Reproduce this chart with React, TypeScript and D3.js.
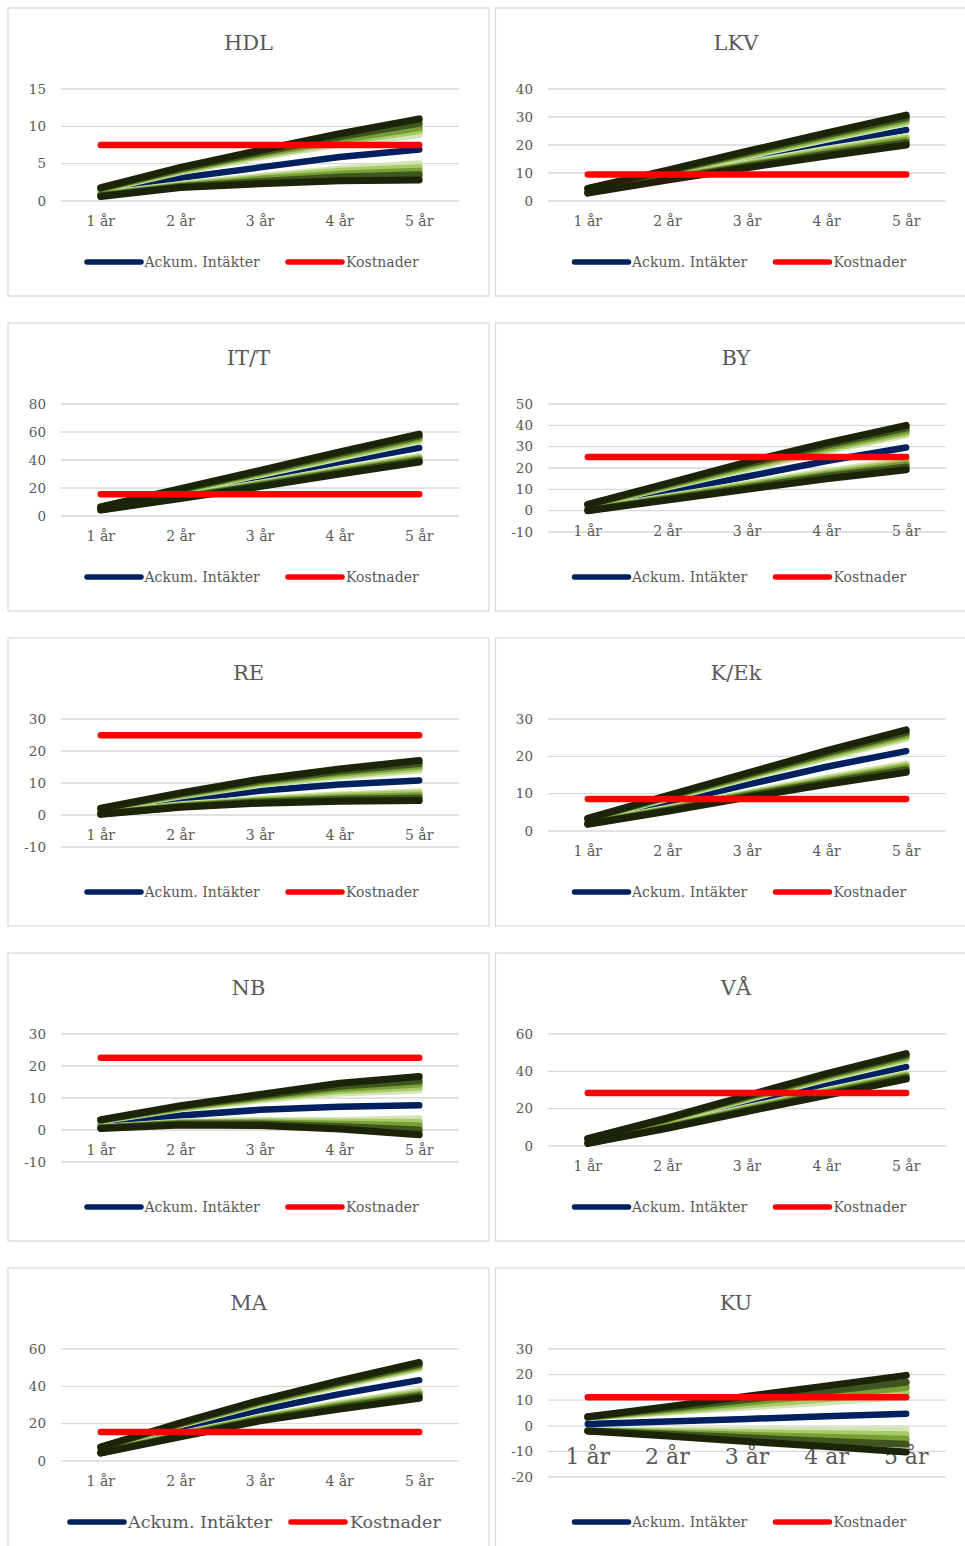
import React from "react";
import * as d3 from "d3";

// ---------- DATA ----------
const years = ["1 år", "2 år", "3 år", "4 år", "5 år"];
const panelTitles = ["HDL", "LKV", "IT/T", "BY", "RE", "K/Ek", "NB", "VÅ", "MA", "KU"];
const yTickValues = [
  [0, 5, 10, 15],
  [0, 10, 20, 30, 40],
  [0, 20, 40, 60, 80],
  [-10, 0, 10, 20, 30, 40, 50],
  [-10, 0, 10, 20, 30],
  [0, 10, 20, 30],
  [-10, 0, 10, 20, 30],
  [0, 20, 40, 60],
  [0, 20, 40, 60],
  [-20, -10, 0, 10, 20, 30],
];
const kostnader = [7.5, 9.5, 15.5, 25.2, 24.9, 8.6, 22.6, 28.4, 15.5, 11.2];
const ackumIntakter = [
  [1.2, 3.1, 4.5, 5.9, 6.9],
  [3.7, 9.2, 14.8, 20.2, 25.4],
  [5.5, 16.5, 27.5, 38.5, 48.7],
  [1.3, 8.8, 16.0, 23.3, 29.6],
  [1.0, 4.7, 7.6, 9.5, 10.8],
  [2.6, 7.5, 12.4, 17.2, 21.4],
  [1.7, 4.5, 6.3, 7.3, 7.7],
  [2.6, 12.0, 22.3, 32.7, 42.4],
  [6.0, 17.0, 27.3, 35.8, 43.3],
  [0.7, 1.7, 2.7, 3.7, 4.7],
];
// Upper scenario lines, outermost (darkest) first
const upperScenarios = [
  [[1.8, 4.5, 6.8, 9.0, 11.0], [1.7, 4.3, 6.5, 8.6, 10.4], [1.6, 4.2, 6.3, 8.2, 9.8], [1.6, 4.0, 6.1, 7.9, 9.4], [1.5, 3.9, 5.9, 7.6, 8.9]],
  [[4.5, 11.0, 17.8, 24.3, 30.7], [4.4, 10.7, 17.3, 23.6, 29.8], [4.3, 10.5, 16.8, 23.0, 29.1], [4.3, 10.2, 16.4, 22.5, 28.4], [4.2, 10.0, 16.0, 22.0, 27.8]],
  [[6.5, 19.5, 32.5, 45.8, 58.5], [6.4, 19.0, 31.6, 44.5, 57.0], [6.3, 18.6, 30.9, 43.4, 55.8], [6.3, 18.2, 30.2, 42.4, 54.6], [6.2, 17.8, 29.5, 41.5, 53.5]],
  [[2.9, 12.8, 22.8, 31.8, 40.0], [2.8, 12.3, 21.8, 30.7, 38.7], [2.6, 11.8, 21.0, 29.7, 37.5], [2.5, 11.4, 20.2, 28.8, 36.5], [2.4, 11.0, 19.5, 28.0, 35.5]],
  [[2.1, 6.9, 11.2, 14.4, 17.0], [2.0, 6.6, 10.7, 13.7, 16.1], [1.9, 6.4, 10.3, 13.1, 15.4], [1.9, 6.1, 9.9, 12.5, 14.7], [1.8, 5.9, 9.5, 12.0, 14.0]],
  [[3.4, 9.5, 15.5, 21.5, 27.1], [3.3, 9.3, 15.1, 20.9, 26.4], [3.2, 9.1, 14.8, 20.5, 25.8], [3.2, 8.9, 14.5, 20.0, 25.3], [3.1, 8.7, 14.2, 19.6, 24.8]],
  [[3.2, 7.6, 11.1, 14.6, 16.7], [3.1, 7.3, 10.6, 13.7, 15.4], [3.0, 7.1, 10.2, 13.0, 14.4], [2.9, 6.8, 9.8, 12.3, 13.4], [2.8, 6.6, 9.4, 11.6, 12.5]],
  [[4.0, 15.0, 27.0, 38.8, 49.5], [3.9, 14.6, 26.4, 38.0, 48.5], [3.8, 14.3, 25.9, 37.3, 47.6], [3.7, 14.1, 25.4, 36.6, 46.8], [3.6, 13.8, 25.0, 36.0, 46.0]],
  [[7.5, 20.5, 32.5, 43.0, 52.8], [7.4, 20.1, 31.9, 42.2, 51.8], [7.3, 19.8, 31.4, 41.5, 51.0], [7.2, 19.6, 30.9, 40.9, 50.2], [7.1, 19.3, 30.5, 40.3, 49.5]],
  [[3.5, 7.5, 11.6, 15.6, 19.7], [3.4, 6.8, 10.3, 13.6, 17.0], [3.4, 6.3, 9.2, 12.1, 15.0], [3.3, 5.7, 8.2, 10.6, 13.0], [3.3, 5.3, 7.3, 9.3, 11.3]],
];
// Lower scenario lines, outermost (darkest) first
const lowerScenarios = [
  [[0.6, 1.8, 2.3, 2.7, 2.8], [0.7, 1.9, 2.6, 3.2, 3.5], [0.8, 2.0, 2.9, 3.6, 4.0], [0.8, 2.1, 3.1, 4.0, 4.5], [0.9, 2.2, 3.3, 4.3, 5.0]],
  [[2.8, 7.5, 11.9, 16.1, 20.0], [3.0, 7.8, 12.4, 16.8, 20.9], [3.1, 8.1, 12.8, 17.4, 21.7], [3.2, 8.3, 13.1, 18.0, 22.3], [3.3, 8.5, 13.5, 18.5, 23.0]],
  [[4.3, 12.5, 21.0, 30.0, 38.5], [4.5, 13.0, 21.8, 31.1, 39.7], [4.6, 13.4, 22.4, 31.9, 40.7], [4.7, 13.8, 23.0, 32.7, 41.6], [4.8, 14.2, 23.5, 33.5, 42.5]],
  [[0.0, 5.0, 10.0, 15.0, 19.2], [0.1, 5.5, 10.8, 16.1, 20.5], [0.2, 5.8, 11.4, 16.9, 21.6], [0.3, 6.2, 12.0, 17.7, 22.6], [0.4, 6.5, 12.5, 18.5, 23.5]],
  [[0.2, 2.4, 3.7, 4.3, 4.5], [0.3, 2.6, 4.1, 4.9, 5.3], [0.4, 2.8, 4.4, 5.4, 6.0], [0.4, 3.0, 4.7, 5.9, 6.7], [0.5, 3.2, 5.0, 6.3, 7.3]],
  [[1.8, 5.3, 9.0, 12.5, 15.7], [1.9, 5.5, 9.4, 13.0, 16.4], [2.0, 5.7, 9.7, 13.4, 17.0], [2.0, 5.9, 9.9, 13.8, 17.5], [2.1, 6.1, 10.2, 14.2, 18.0]],
  [[0.5, 1.6, 1.4, 0.3, -1.5], [0.6, 1.9, 1.9, 1.1, 0.0], [0.7, 2.1, 2.3, 1.8, 1.3], [0.7, 2.3, 2.6, 2.4, 2.4], [0.8, 2.5, 3.0, 3.0, 3.5]],
  [[1.4, 9.5, 18.5, 27.2, 35.8], [1.5, 9.9, 19.1, 28.0, 36.7], [1.6, 10.2, 19.6, 28.6, 37.5], [1.7, 10.5, 20.1, 29.2, 38.1], [1.8, 10.8, 20.5, 29.8, 38.8]],
  [[4.2, 13.0, 21.5, 27.8, 33.6], [4.4, 13.5, 22.1, 28.8, 34.8], [4.5, 13.8, 22.6, 29.6, 35.7], [4.6, 14.2, 23.1, 30.3, 36.6], [4.7, 14.5, 23.5, 31.0, 37.5]],
  [[-2.0, -4.0, -6.1, -8.1, -10.2], [-2.0, -3.3, -4.7, -6.0, -7.2], [-2.0, -2.8, -3.7, -4.5, -5.3], [-1.9, -2.3, -2.7, -3.1, -3.5], [-1.9, -1.8, -1.7, -1.6, -1.5]],
];
const legendLabels = ["Ackum. Intäkter", "Kostnader"];

// ---------- STYLE ----------
const W = 965;
const H = 1546;
const FONT = "'DejaVu Serif', Georgia, serif";
const TEXT = "#595959";
const GRID = "#d9d9d9";
const BLUE = "#002060";
const RED = "#ff0000";
const fanColors = ["#1b2309", "#3e5520", "#76a033", "#a9ca6b", "#d3e5b4"];
const panelW = 481;
const panelH = 288;
const colX = [8, 495.5];
const plotLeftOff = [53, 52.5];
const plotRightOff = [451, 450.5];
const xFontSizes = [14, 14, 14, 14, 14, 14, 14, 14, 14, 22];
const legendFontSizes = [14, 14, 14, 14, 14, 14, 14, 14, 17.5, 14];

function Panel({ i }: { i: number }) {
  const col = i % 2;
  const row = Math.floor(i / 2);
  const px = colX[col];
  const py = 8 + row * 315;
  const ticks = yTickValues[i];
  const yMin = ticks[0];
  const yMax = ticks[ticks.length - 1];
  const left = px + plotLeftOff[col];
  const right = px + plotRightOff[col];
  const top = py + 81;
  const bottom = py + (yMin < 0 ? 209 : 193);
  const x = d3.scalePoint<string>().domain(years).range([left, right]).padding(0.5);
  const y = d3.scaleLinear().domain([yMin, yMax]).range([bottom, top]);
  const line = d3
    .line<number>()
    .x((_, k) => x(years[k]) as number)
    .y((d) => y(d));
  const cx = px + panelW / 2;
  const zeroY = y(0);
  const xf = xFontSizes[i];
  const lf = legendFontSizes[i];
  const big = lf > 16;
  const lg = big
    ? { b0: cx - 178.5, b1: cx - 124.5, bt: cx - 120.5, r0: cx + 42.5, r1: cx + 96.5, rt: cx + 101.5 }
    : { b0: cx - 161.5, b1: cx - 107.5, bt: cx - 104, r0: cx + 39.5, r1: cx + 93.5, rt: cx + 97.5 };
  const ly = py + 254;
  const kostLine = years.map(() => kostnader[i]);
  const fanOrder = [4, 3, 2, 1, 0];
  return (
    <g>
      <rect x={px} y={py} width={panelW} height={panelH} fill="#fff" stroke={GRID} strokeWidth={1.2} />
      <text x={cx} y={py + 42} textAnchor="middle" fontSize={21} fill={TEXT} fontFamily={FONT}>
        {panelTitles[i]}
      </text>
      {ticks.map((t) => (
        <g key={t}>
          <line x1={left} x2={right} y1={y(t)} y2={y(t)} stroke={GRID} strokeWidth={1.3} />
          <text x={left - 15} y={y(t)} dy="0.35em" textAnchor="end" fontSize={13.5} fill={TEXT} fontFamily={FONT}>
            {t}
          </text>
        </g>
      ))}
      {years.map((yr) => (
        <text key={yr} x={x(yr)} y={zeroY + (xf > 16 ? 30 : 20)} dy="0.35em" textAnchor="middle" fontSize={xf} fill={TEXT} fontFamily={FONT}>
          {yr}
        </text>
      ))}
      <path d={line(ackumIntakter[i]) || ""} fill="none" stroke={BLUE} strokeWidth={6.5} strokeLinecap="round" strokeLinejoin="round" />
      {fanOrder.map((k) => (
        <g key={k}>
          <path d={line(upperScenarios[i][k]) || ""} fill="none" stroke={fanColors[k]} strokeWidth={7} strokeLinecap="round" strokeLinejoin="round" />
          <path d={line(lowerScenarios[i][k]) || ""} fill="none" stroke={fanColors[k]} strokeWidth={7} strokeLinecap="round" strokeLinejoin="round" />
        </g>
      ))}
      <path d={line(kostLine) || ""} fill="none" stroke={RED} strokeWidth={6.5} strokeLinecap="round" />
      <line x1={lg.b0} x2={lg.b1} y1={ly} y2={ly} stroke={BLUE} strokeWidth={5.5} strokeLinecap="round" />
      <text x={lg.bt} y={ly} dy="0.35em" fontSize={lf} fill={TEXT} fontFamily={FONT}>
        {legendLabels[0]}
      </text>
      <line x1={lg.r0} x2={lg.r1} y1={ly} y2={ly} stroke={RED} strokeWidth={5.5} strokeLinecap="round" />
      <text x={lg.rt} y={ly} dy="0.35em" fontSize={lf} fill={TEXT} fontFamily={FONT}>
        {legendLabels[1]}
      </text>
    </g>
  );
}

export default function App() {
  return (
    <svg
      width={W}
      height={H}
      viewBox={`0 0 ${W} ${H}`}
      style={{ position: "absolute", left: 0, top: 0, background: "#fff" }}
    >
      {panelTitles.map((_, i) => (
        <Panel key={i} i={i} />
      ))}
    </svg>
  );
}
